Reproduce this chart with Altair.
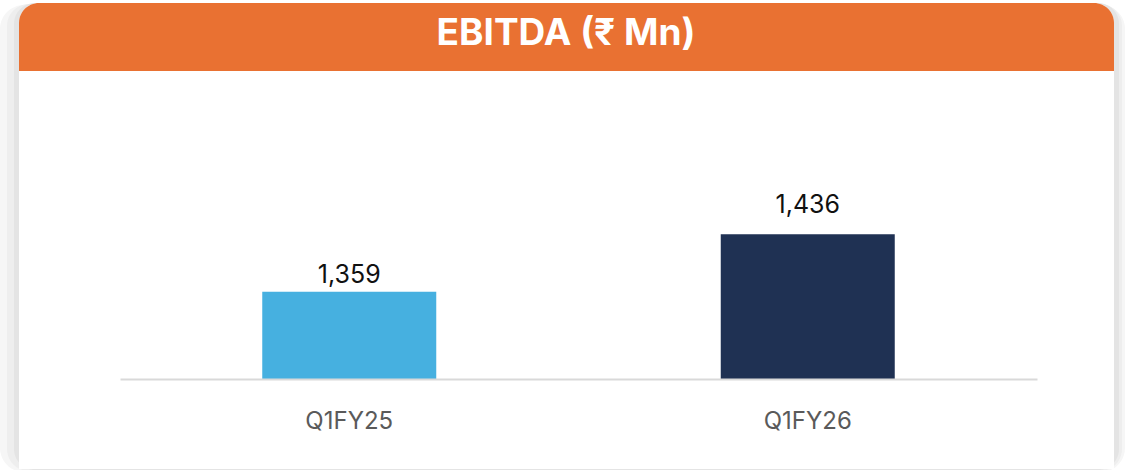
import altair as alt
import pandas as pd

# ---- data ----
quarters = ["Q1FY25", "Q1FY26"]
ebitda = [1359, 1436]
value_labels = ["1,359", "1,436"]
bar_colors = ["#46B0E0", "#1F3153"]
title_text = "EBITDA (₹ Mn)"

df = pd.DataFrame({"q": quarters, "v": ebitda, "lab": value_labels})

# ---- layout (page coords -> plot coords) ----
PAD_L, PAD_T, PAD_R, PAD_B = 120, 80, 88, 91
W, H = 1125 - PAD_L - PAD_R, 470 - PAD_T - PAD_B
FONT = "Inter, Noto Sans, DejaVu Sans, sans-serif"


def px(x):
    return x - PAD_L


def py(y):
    return y - PAD_T


one = alt.Data(values=[{"a": 1}])


def deco_rect(x1, x2, y1, y2, color, **kw):
    return alt.Chart(one).mark_rect(color=color, **kw).encode(
        x=alt.value(px(x1)), x2=alt.value(px(x2)),
        y=alt.value(py(y1)), y2=alt.value(py(y2)),
    )


shadow1 = deco_rect(0, 1125, 5, 472, "#f6f6f6", cornerRadius=24)
shadow2 = deco_rect(7, 1122, 4, 471, "#eeeeee", cornerRadius=22)
shadow3 = deco_rect(14, 1119, 3, 470, "#e4e4e4", cornerRadius=21)
card = deco_rect(19, 1114, 3, 469, "#ffffff",
                 cornerRadiusTopLeft=20, cornerRadiusTopRight=20)
header = deco_rect(19, 1114, 3, 71, "#E97132",
                   cornerRadiusTopLeft=20, cornerRadiusTopRight=20)

title = alt.Chart(one).mark_text(
    text=title_text, font=FONT, fontSize=37, fontWeight="bold",
    color="#ffffff", align="center", baseline="middle",
).encode(x=alt.value(px(566)), y=alt.value(py(34)))

base = alt.Chart(df)

bars = base.mark_bar(size=174).encode(
    x=alt.X("q:N", sort=quarters,
            scale=alt.Scale(paddingInner=0, paddingOuter=0),
            axis=alt.Axis(title=None, labelAngle=0, ticks=False,
                          labelFont=FONT, labelFontSize=24,
                          labelColor="#5a5a5a", labelPadding=30,
                          domainColor="#d9d9d9", domainWidth=2,
                          zindex=1)),
    y=alt.Y("v:Q", scale=alt.Scale(domain=[1242.5, 1642], zero=False,
                                   nice=False, clamp=True),
            axis=None),
    color=alt.Color("q:N", scale=alt.Scale(domain=quarters, range=bar_colors),
                    legend=None),
)


def value_text(quarter, dy):
    return base.transform_filter(alt.datum.q == quarter).mark_text(
        font=FONT, fontSize=25, color="#111111", baseline="alphabetic", dy=dy,
    ).encode(
        x=alt.X("q:N", sort=quarters),
        y=alt.Y("v:Q"),
        text="lab:N",
    )


texts1 = value_text(quarters[0], -9)
texts2 = value_text(quarters[1], -21)

chart = alt.layer(
    shadow1, shadow2, shadow3, card, header, title, bars, texts1, texts2
).properties(
    width=W, height=H,
    padding={"left": PAD_L, "top": PAD_T, "right": PAD_R, "bottom": PAD_B},
    autosize=alt.AutoSizeParams(type="none"),
    background="#ffffff",
).configure_view(stroke=None)

chart.save("out.html", embed_options={"renderer": "svg", "actions": False})
